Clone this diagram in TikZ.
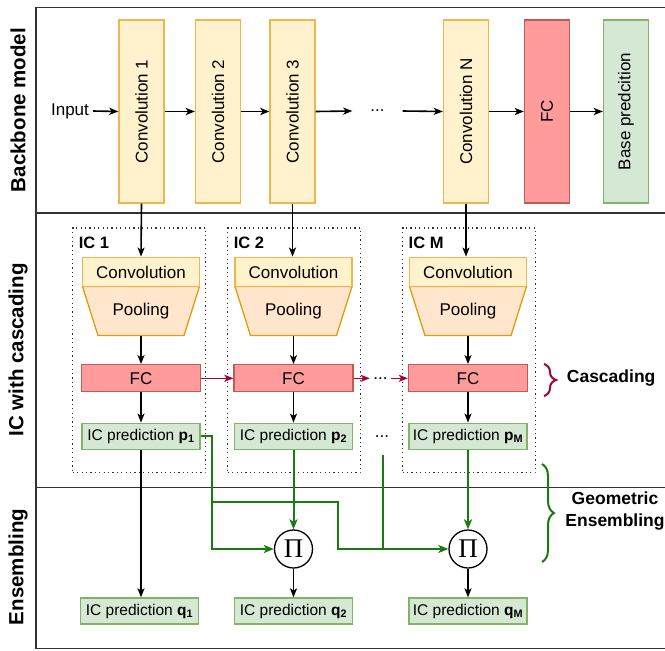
\documentclass[tikz,border=0pt]{standalone}
\usepackage{graphicx}
\usepackage{fontspec}
\setmainfont{Liberation Sans}
\newfontfamily\pifont{Liberation Serif}
\usetikzlibrary{arrows.meta,decorations.pathreplacing,calc}
\definecolor{convfill}{HTML}{FFF2CC}
\definecolor{convdraw}{HTML}{EBB850}
\definecolor{poolfill}{HTML}{FFE6CC}
\definecolor{pooldraw}{HTML}{E09B10}
\definecolor{fcfill}{HTML}{FF9B9B}
\definecolor{fcdraw}{HTML}{C05A55}
\definecolor{predfill}{HTML}{D5E8D4}
\definecolor{preddraw}{HTML}{82B366}
\definecolor{cascade}{HTML}{A50040}
\definecolor{ens}{HTML}{1C7A12}
\definecolor{framec}{HTML}{333333}
\tikzset{
  fnt/.style={font=\fontsize{17}{20}\selectfont},
  bbox/.style={draw=convdraw, fill=convfill, line width=1.3pt, minimum width=45pt, minimum height=183pt, inner sep=0pt, fnt},
  fcbig/.style={bbox, draw=fcdraw, fill=fcfill},
  basebox/.style={bbox, draw=preddraw, fill=predfill},
  convs/.style={draw=convdraw, fill=convfill, line width=1.3pt, minimum width=117pt, minimum height=29.5pt, inner sep=0pt, fnt},
  pools/.style={minimum width=117pt, minimum height=49pt, inner sep=0pt, fnt},
  fcs/.style={draw=fcdraw, fill=fcfill, line width=1.3pt, minimum width=119pt, minimum height=27pt, inner sep=0pt, fnt},
  preds/.style={draw=preddraw, fill=predfill, line width=1.3pt, minimum width=118pt, minimum height=26pt, inner sep=0pt, font=\fontsize{15.5}{18}\selectfont},
  icbox/.style={draw=black!80, line width=1.3pt, dash pattern=on 1.2pt off 3.2pt, minimum width=133pt, minimum height=244.7pt, inner sep=0pt},
  iclab/.style={font=\bfseries\fontsize{16.5}{19}\selectfont, inner sep=0pt, anchor=west},
  seclab/.style={font=\bfseries\fontsize{20.5}{24}\selectfont, rotate=90, inner sep=0pt},
  pinode/.style={circle, draw=black, line width=1.3pt, minimum size=38pt, inner sep=0pt, fill=white},
  arr/.style={draw=black, line width=1.6pt, -{Stealth[length=9pt,width=7pt,inset=2.2pt]}},
  carr/.style={arr, draw=cascade},
  gline/.style={draw=ens, line width=2pt},
  garr/.style={gline, -{Stealth[length=10pt,width=8pt,inset=2.5pt]}},
  txt/.style={fnt, inner sep=0pt},
}
\begin{document}
\begin{tikzpicture}[x=1pt,y=-1pt]
\useasboundingbox (0,0) rectangle (665,651);
% frame
\draw[framec, line width=1.8pt] (665,7.5) -- (36,7.5) -- (36,648.5) -- (665,648.5);
\draw[framec, line width=1.8pt] (36,213) -- (665,213);
\draw[framec, line width=1.8pt] (36,487.5) -- (665,487.5);
% section labels
\node[seclab] (s1) at (18,110) {Backbone model};
\node[seclab] (s2) at (18,350) {IC with cascading};
\node[seclab] (s3) at (18,567) {Ensembling};
% backbone
\node[txt] (in) at (70,111) {Input};
\node[bbox] (c1) at (141.5,111.5) {\rotatebox{90}{Convolution 1}};
\node[bbox] (c2) at (218,111.5) {\rotatebox{90}{Convolution 2}};
\node[bbox] (c3) at (292.5,111.5) {\rotatebox{90}{Convolution 3}};
\node[txt, minimum width=50pt] (bd) at (377.5,111) {...};
\node[bbox] (cN) at (466,111.5) {\rotatebox{90}{Convolution N}};
\node[fcbig] (fcb) at (547,111.5) {\rotatebox{90}{FC}};
\node[basebox] (base) at (626,111.5) {\rotatebox{90}{Base predcition}};
\draw[arr] ([xshift=4pt]in.east) -- (c1.west);
\draw[arr] (c1) -- (c2);
\draw[arr] (c2) -- (c3);
\draw[arr] (c3.east) -- (bd.west);
\draw[arr] (bd.east) -- (cN.west);
\draw[arr] (cN) -- (fcb);
\draw[arr] (fcb) -- (base);
% IC columns
\foreach \i/\x/\bx in {1/141/139.2, 2/293.5/294.2, M/468/469}{
  \node[icbox] (ic\i) at (\bx,350.35) {};
  \node[iclab] (icl\i) at (\bx-60.5,242.7) {IC \i};
  \filldraw[fill=poolfill, draw=pooldraw, line width=1.3pt]
     (\x-58.5,286.5) -- (\x+58.5,286.5) -- (\x+43,335.5) -- (\x-43,335.5) -- cycle;
  \node[convs] (cv\i) at (\x,272) {Convolution};
  \node[pools] (pl\i) at (\x,311) {Pooling};
  \node[fcs] (fc\i) at (\x,378.3) {FC};
  \node[preds] (pr\i) at (\x,436.3) {IC prediction \textbf{p}\textsubscript{\textbf{\i}}};
  \draw[arr] (pl\i) -- (fc\i);
  \draw[arr] (fc\i) -- (pr\i);
}
\draw[arr] (c1.south) -- (cv1.north);
\draw[arr] (c3.south) -- (c3.south |- cv2.north);
\draw[arr] (cN.south) -- (cN.south |- cvM.north);
% cascading
\node[txt, minimum width=21pt] (cd) at (380.5,378.3) {...};
\draw[carr] (fc1) -- (fc2);
\draw[carr] (fc2.east) -- (cd.west);
\draw[carr] (cd.east) -- (fcM.west);
\draw[cascade, line width=2pt, decorate, decoration={brace, amplitude=12pt, aspect=0.5}] (544,364) -- (544,396);
\node[iclab, font=\bfseries\fontsize{17.5}{20}\selectfont] (casc) at (566.7,378.3) {Cascading};
% ensembling
\node[txt] (pd) at (382,437) {...};
\node[pinode] (pi2) at (293.5,549) {\fontsize{27}{27}\pifont Π};
\node[pinode] (piM) at (468,549) {\fontsize{27}{27}\pifont Π};
\node[preds] (q1) at (139.5,611) {IC prediction \textbf{q}\textsubscript{\textbf{1}}};
\node[preds] (q2) at (293.5,611) {IC prediction \textbf{q}\textsubscript{\textbf{2}}};
\node[preds] (qM) at (468,611) {IC prediction \textbf{q}\textsubscript{\textbf{M}}};
\coordinate (gb) at (212.3,501.7);
\coordinate (gc) at (338,501.7);
\coordinate (gd) at (382.5,455);
\draw[garr] (pr1.east) -| (gb) |- (pi2.west);
\draw[garr] (gb) -- (gc) |- (piM.west);
\draw[gline] (gd) -- (gd |- piM.west);
\draw[garr] (pr2) -- (pi2);
\draw[garr] (prM) -- (piM);
\draw[arr] (pr1.south) -- (pr1.south |- q1.north);
\draw[arr] (pi2) -- (q2);
\draw[arr] (piM) -- (qM);
\draw[ens, line width=2pt, decorate, decoration={brace, amplitude=12pt, aspect=0.5}] (542,464) -- (542,562);
\node[font=\bfseries\fontsize{17.5}{21.5}\selectfont, align=center, inner sep=0pt] (geo) at (615,511) {Geometric\\Ensembling};
\end{tikzpicture}
\end{document}
